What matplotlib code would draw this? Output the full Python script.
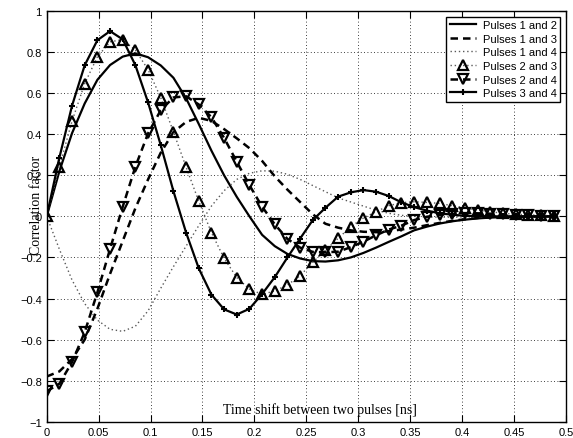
import numpy as np
import matplotlib
matplotlib.use("Agg")
import matplotlib.pyplot as plt

# time shift samples [ns] (marker positions)
shift_ns = [0.0, 0.0122, 0.0244, 0.0366, 0.0488, 0.061, 0.0732, 0.0854, 0.0976, 0.1098,
            0.122, 0.1342, 0.1464, 0.1586, 0.1708, 0.183, 0.1952, 0.2074, 0.2196, 0.2318,
            0.244, 0.2562, 0.2684, 0.2806, 0.2928, 0.305, 0.3172, 0.3294, 0.3416, 0.3538,
            0.366, 0.3782, 0.3904, 0.4026, 0.4148, 0.427, 0.4392, 0.4514, 0.4636, 0.4758, 0.488]

pulses_12 = [0.0, 0.22, 0.405, 0.55, 0.665, 0.737, 0.778, 0.794, 0.775, 0.735,
             0.675, 0.575, 0.45, 0.32, 0.20, 0.095, 0.0, -0.09, -0.145, -0.183,
             -0.205, -0.218, -0.22, -0.214, -0.20, -0.178, -0.152, -0.124, -0.097, -0.068,
             -0.05, -0.035, -0.024, -0.016, -0.01, -0.006, -0.003, -0.002, -0.001, 0.0, 0.0]

pulses_13 = [-0.78, -0.755, -0.695, -0.60, -0.45, -0.28, -0.12, 0.04, 0.18, 0.31,
             0.41, 0.46, 0.48, 0.465, 0.425, 0.38, 0.332, 0.27, 0.195, 0.13,
             0.07, 0.01, -0.036, -0.055, -0.068, -0.075, -0.077, -0.072, -0.064, -0.055,
             -0.043, -0.032, -0.022, -0.014, -0.008, -0.005, -0.003, -0.002, -0.001, 0.0, 0.0]

pulses_14 = [0.0, -0.16, -0.31, -0.425, -0.505, -0.55, -0.56, -0.535, -0.46, -0.35,
             -0.245, -0.145, -0.045, 0.05, 0.125, 0.18, 0.21, 0.222, 0.22, 0.205,
             0.18, 0.15, 0.12, 0.09, 0.07, 0.05, 0.03, 0.015, 0.005, 0.0,
             -0.003, -0.004, -0.004, -0.003, -0.002, -0.001, 0.0, 0.0, 0.0, 0.0, 0.0]

pulses_23 = [0.0, 0.242, 0.464, 0.647, 0.777, 0.850, 0.861, 0.809, 0.715, 0.578,
             0.412, 0.240, 0.074, -0.079, -0.204, -0.298, -0.354, -0.380, -0.363, -0.334,
             -0.289, -0.223, -0.165, -0.107, -0.050, -0.008, 0.023, 0.052, 0.067, 0.071,
             0.068, 0.063, 0.052, 0.042, 0.031, 0.023, 0.015, 0.010, 0.008, 0.005, 0.003]

pulses_24 = [-0.852, -0.815, -0.710, -0.564, -0.370, -0.159, 0.047, 0.242, 0.404, 0.517,
             0.579, 0.585, 0.545, 0.483, 0.382, 0.266, 0.152, 0.047, -0.039, -0.110,
             -0.152, -0.173, -0.175, -0.172, -0.150, -0.123, -0.092, -0.064, -0.045, -0.018,
             -0.002, 0.008, 0.012, 0.015, 0.015, 0.013, 0.010, 0.007, 0.005, 0.003, 0.002]

pulses_34 = [0.0, 0.286, 0.539, 0.736, 0.858, 0.902, 0.862, 0.736, 0.555, 0.347,
             0.123, -0.079, -0.253, -0.381, -0.453, -0.478, -0.450, -0.378, -0.296, -0.200,
             -0.108, -0.018, 0.042, 0.096, 0.117, 0.128, 0.120, 0.099, 0.068, 0.045,
             0.028, 0.015, 0.008, 0.003, 0.001, 0.0, 0.0, 0.0, 0.0, 0.0, 0.0]

x_ticks = [0, 0.05, 0.1, 0.15, 0.2, 0.25, 0.3, 0.35, 0.4, 0.45, 0.5]
x_labels = ["0", "0.05", "0.1", "0.15", "0.2", "0.25", "0.3", "0.35", "0.4", "0.45", "0.5"]
y_ticks = [-1, -0.8, -0.6, -0.4, -0.2, 0, 0.2, 0.4, 0.6, 0.8, 1]
y_labels = ["\u22121", "\u22120.8", "\u22120.6", "\u22120.4", "\u22120.2", "0",
            "0.2", "0.4", "0.6", "0.8", "1"]

plt.rcParams["font.family"] = ["Liberation Sans", "DejaVu Sans"]

fig = plt.figure(figsize=(5.73, 4.39), dpi=100)
ax = fig.add_axes([0.0815, 0.0371, 0.9063, 0.9355])

dash = (0, (3, 2))
dots = (0, (1, 2))
ax.plot(shift_ns, pulses_12, "-", color="k", lw=1.6, label="Pulses 1 and 2")
ax.plot(shift_ns, pulses_13, color="k", lw=1.8, ls=dash, label="Pulses 1 and 3")
ax.plot(shift_ns, pulses_14, color="0.35", lw=1.0, ls=dots, label="Pulses 1 and 4")
ax.plot(shift_ns, pulses_23, color="0.35", lw=1.0, ls=dots, marker="^", ms=6.5,
        mfc="none", mec="k", mew=1.6, label="Pulses 2 and 3")
ax.plot(shift_ns, pulses_24, color="k", lw=1.8, ls=dash, marker="v", ms=6.5,
        mfc="none", mec="k", mew=1.6, label="Pulses 2 and 4")
ax.plot(shift_ns, pulses_34, "-", color="k", lw=1.6, marker="+", ms=5, mew=1.5,
        label="Pulses 3 and 4")

ax.set_xlim(0, 0.5)
ax.set_ylim(-1, 1)
ax.set_xticks(x_ticks)
ax.set_xticklabels(x_labels)
ax.set_yticks(y_ticks)
ax.set_yticklabels(y_labels)
ax.tick_params(direction="in", top=True, right=True, length=5, width=0.8, labelsize=8)
ax.grid(True, color="k", lw=0.6, ls=(0, (1, 3)))
for sp in ax.spines.values():
    sp.set_linewidth(1.0)

leg = ax.legend(loc="upper right", fontsize=8, fancybox=False, framealpha=1,
                edgecolor="k", borderaxespad=0.5, handlelength=2.4, labelspacing=0.33,
                borderpad=0.3, handletextpad=0.6)
leg.get_frame().set_linewidth(1.0)

fig.text(320 / 573, (439 - 410) / 439, "Time shift between two pulses [ns]",
         family="Liberation Serif", fontsize=10, ha="center", va="center")
fig.text(37 / 573, (439 - 205) / 439, "Correlation factor", rotation=90,
         family="Liberation Serif", fontsize=10, ha="center", va="center")

fig.savefig("out.png", dpi=100)
